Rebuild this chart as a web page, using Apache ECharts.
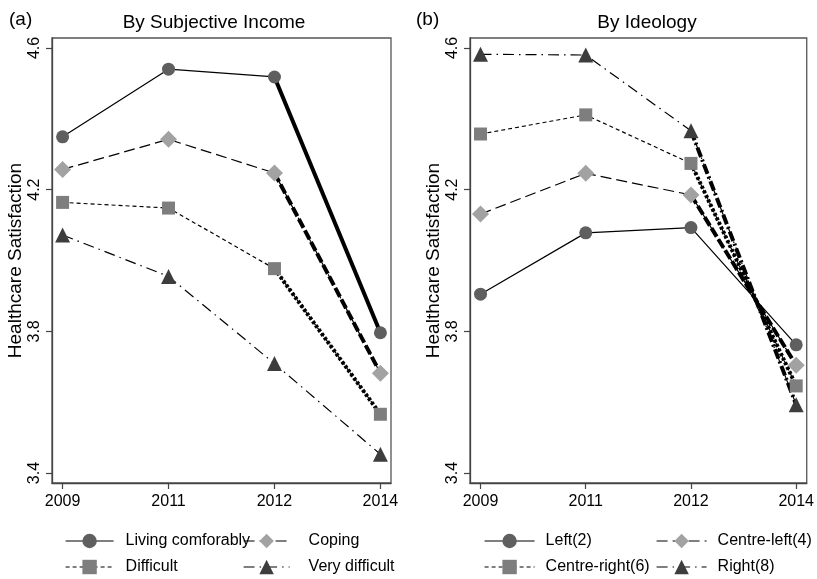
<!DOCTYPE html>
<html>
<head>
<meta charset="utf-8">
<script src="https://cdn.jsdelivr.net/npm/echarts@6/dist/echarts.min.js"></script>
<style>
  html, body { margin: 0; padding: 0; background: #fff; }
  #chart { width: 817px; height: 579px; }
</style>
</head>
<body>
<div id="chart"></div>
<script>
// Survey years (equally spaced on the x axis)
const years = ['2009', '2011', '2012', '2014'];
const yTicks = [3.4, 3.8, 4.2, 4.6];

// Panel (a): mean healthcare satisfaction by subjective income
const incomeComfortable = [4.349, 4.540, 4.518, 3.796];
const incomeCoping      = [4.257, 4.342, 4.247, 3.682];
const incomeDifficult   = [4.164, 4.148, 3.977, 3.566];
const incomeVeryDiff    = [4.072, 3.955, 3.709, 3.453];

// Panel (b): mean healthcare satisfaction by ideology
const ideoLeft        = [3.905, 4.078, 4.093, 3.762];
const ideoCentreLeft  = [4.131, 4.246, 4.185, 3.704];
const ideoCentreRight = [4.357, 4.411, 4.274, 3.646];
const ideoRight       = [4.582, 4.580, 4.366, 3.593];

const FONT = '"Liberation Sans", Arial, Helvetica, sans-serif';

const styles = {
  circle:   { symbol: 'circle',   size: 13, color: '#5f5f5f', dash: 'solid' },
  diamond:  { symbol: 'diamond',  size: 17, color: '#a2a2a2', dash: [11, 5] },
  square:   { symbol: 'rect',     size: 13, color: '#7e7e7e', dash: [4, 3] },
  triangle: { symbol: 'triangle', size: 15, color: '#3d3d3d', dash: [11, 5, 1.5, 5] }
};

const boldDash = {
  circle: 'solid',
  diamond: [10, 3],
  square: [3, 2],
  triangle: [10, 3, 2, 3]
};

function pts(values) {
  return values.map((v, i) => [i, v]);
}

function lastSegment(values) {
  return values.map((v, i) => [i, i >= values.length - 2 ? v : null]);
}

function makeSeries(name, values, kind, gridIndex, bold) {
  const s = styles[kind];
  const out = [{
    name: name,
    type: 'line',
    xAxisIndex: gridIndex,
    yAxisIndex: gridIndex,
    data: pts(values),
    symbol: s.symbol,
    symbolSize: s.size,
    showAllSymbol: true,
    z: 3,
    itemStyle: { color: s.color },
    lineStyle: { color: '#000', width: 1.2, type: s.dash },
    emphasis: { disabled: true },
    animation: false
  }];
  if (bold) {
    out.push({
      type: 'line',
      xAxisIndex: gridIndex,
      yAxisIndex: gridIndex,
      data: lastSegment(values),
      symbol: 'none',
      connectNulls: false,
      z: 2,
      lineStyle: { color: '#000', width: 4, type: boldDash[kind] },
      emphasis: { disabled: true },
      animation: false,
      silent: true
    });
  }
  return out;
}

const grids = [
  { left: 52, right: 426, top: 38, bottom: 96 },
  { left: 470, right: 9, top: 38, bottom: 96 }
];

function xAxisFor(i) {
  return {
    type: 'value', gridIndex: i, min: -0.1, max: 3.1,
    axisLine: { show: true, onZero: false, lineStyle: { color: '#444', width: 1.3 } },
    axisTick: { show: true, length: 6, customValues: [0, 1, 2, 3], lineStyle: { color: '#444', width: 1.2 } },
    axisLabel: {
      customValues: [0, 1, 2, 3], margin: 11,
      formatter: v => years[Math.round(v)],
      color: '#000', fontFamily: FONT, fontSize: 16
    },
    splitLine: { show: false }
  };
}

function yAxisFor(i) {
  return {
    type: 'value', gridIndex: i, min: 3.372, max: 4.628,
    name: 'Healthcare Satisfaction', nameLocation: 'middle', nameGap: 27,
    nameTextStyle: { color: '#000', fontFamily: FONT, fontSize: 19 },
    axisLine: { show: true, onZero: false, lineStyle: { color: '#444', width: 1.3 } },
    axisTick: { show: true, length: 6, customValues: yTicks, lineStyle: { color: '#444', width: 1.2 } },
    axisLabel: {
      customValues: yTicks, rotate: 90, margin: 9,
      formatter: v => v.toFixed(1),
      color: '#000', fontFamily: FONT, fontSize: 16
    },
    splitLine: { show: false }
  };
}

// One legend block per entry so each sits at its own spot in the two-column key
function legendItem(name, left, centerY, width, pad) {
  const h = 18;
  return {
    data: [name],
    left: left, top: centerY - h / 2,
    orient: 'horizontal',
    itemWidth: width, itemHeight: h,
    selectedMode: false,
    padding: 0,
    lineStyle: { width: 1.2 },
    textStyle: { color: '#000', fontFamily: FONT, fontSize: 16, padding: [0, 0, 0, pad] }
  };
}

const series = [].concat(
  makeSeries('Living comforably', incomeComfortable, 'circle', 0, true),
  makeSeries('Coping', incomeCoping, 'diamond', 0, true),
  makeSeries('Difficult', incomeDifficult, 'square', 0, true),
  makeSeries('Very difficult', incomeVeryDiff, 'triangle', 0, false),
  makeSeries('Left(2)', ideoLeft, 'circle', 1, false),
  makeSeries('Centre-left(4)', ideoCentreLeft, 'diamond', 1, true),
  makeSeries('Centre-right(6)', ideoCentreRight, 'square', 1, true),
  makeSeries('Right(8)', ideoRight, 'triangle', 1, true)
);

const chart = echarts.init(document.getElementById('chart'), null, { renderer: 'canvas' });
chart.setOption({
  backgroundColor: '#fff',
  animation: false,
  title: [
    { text: '(a)', left: 4, top: 5, textStyle: { fontFamily: FONT, fontSize: 19, fontWeight: 'normal', color: '#000' } },
    { text: 'By Subjective Income', left: 209, textAlign: 'center', top: 8, textStyle: { fontFamily: FONT, fontSize: 19, fontWeight: 'normal', color: '#000' } },
    { text: '(b)', left: 411, top: 5, textStyle: { fontFamily: FONT, fontSize: 19, fontWeight: 'normal', color: '#000' } },
    { text: 'By Ideology', left: 642, textAlign: 'center', top: 8, textStyle: { fontFamily: FONT, fontSize: 19, fontWeight: 'normal', color: '#000' } }
  ],
  grid: grids.map(g => Object.assign({ show: true, borderColor: '#555', borderWidth: 1.3, backgroundColor: '#fff' }, g)),
  xAxis: [xAxisFor(0), xAxisFor(1)],
  yAxis: [yAxisFor(0), yAxisFor(1)],
  legend: [
    legendItem('Living comforably', 65, 542, 48, 7),
    legendItem('Coping', 243, 542, 46, 14),
    legendItem('Difficult', 65, 568, 48, 7),
    legendItem('Very difficult', 243, 568, 46, 14),
    legendItem('Left(2)', 484, 542, 50, 6),
    legendItem('Centre-left(4)', 656, 542, 50, 6),
    legendItem('Centre-right(6)', 484, 568, 50, 6),
    legendItem('Right(8)', 656, 568, 50, 6)
  ],
  series: series
});
</script>
</body>
</html>
